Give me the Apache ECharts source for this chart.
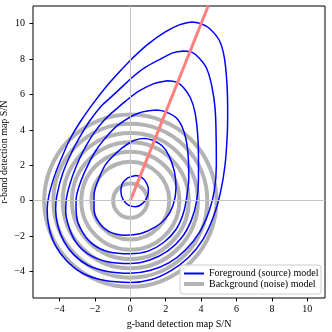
<!DOCTYPE html>
<html>
<head>
<meta charset="utf-8">
<script src="https://cdn.jsdelivr.net/npm/echarts@6/dist/echarts.min.js"></script>
<style>
  html, body { margin: 0; padding: 0; background: #fff; }
</style>
</head>
<body>
<div id="chart" style="width: 332px; height: 332px"></div>
<script>
// tick labels
var xTicks = [-4, -2, 0, 2, 4, 6, 8, 10];
var yTicks = [-4, -2, 0, 2, 4, 6, 8, 10];

// background (noise) model: circle radii around the origin
var noiseRadii = [0.97, 2.2, 2.77, 3.3, 3.82, 4.35, 4.87];

// colour line of the sources
var colorLine = [[0, 0], [4.4, 11]];

// foreground (source) model contours
var fg0 = [
  [0.3, 1.42], [-0.2, 1.25], [-0.48, 0.9], [-0.53, 0.5], [-0.4, 0.05], [-0.05, -0.28],
  [0.3, -0.34], [0.7, -0.15], [0.97, 0.25], [1.02, 0.65], [0.85, 1.1], [0.6, 1.35], [0.3, 1.42]
];
var fg1 = [
  [0.83, 3.52], [0.2, 3.4], [-0.49, 2.96], [-1.0, 2.5], [-1.43, 2.0], [-1.8, 1.2], [-2.05, 0.3],
  [-2.05, -0.5], [-1.8, -1.2], [-1.2, -1.75], [-0.3, -1.95], [0.6, -1.85], [1.4, -1.5], [2.0, -1.0],
  [2.4, -0.3], [2.58, 0.7], [2.5, 1.6], [2.2, 2.5], [1.8, 3.1], [1.3, 3.4], [0.83, 3.52]
];
var fg2 = [
  [1.49, 5.12], [0.45, 4.94], [-0.68, 4.28], [-1.43, 3.52], [-2.0, 2.75], [-2.5, 1.8], [-2.9, 0.8],
  [-3.07, 0.0], [-3.05, -0.8], [-2.8, -1.6], [-2.2, -2.4], [-1.2, -2.9], [0, -3.0], [1.0, -2.85],
  [1.9, -2.35], [2.6, -1.6], [3.0, -0.7], [3.2, 0.3], [3.3, 1.3], [3.25, 2.77], [3.03, 3.9],
  [2.62, 4.66], [1.96, 5.03], [1.49, 5.12]
];
var fg3 = [
  [2.1, 6.78], [1.3, 6.6], [0.5, 6.2], [-0.3, 5.6], [-1.0, 5.0], [-1.43, 4.6], [-2.0, 3.9],
  [-2.5, 3.1], [-2.86, 2.4], [-3.3, 1.3], [-3.6, 0.2], [-3.65, -0.6], [-3.5, -1.4], [-3.1, -2.3],
  [-2.4, -3.0], [-1.3, -3.45], [0, -3.55], [1.1, -3.35], [2.1, -2.85], [2.9, -2.1], [3.45, -1.1],
  [3.75, 0.0], [3.85, 1.2], [3.85, 2.5], [3.8, 3.8], [3.65, 5.0], [3.4, 5.8], [3.0, 6.4],
  [2.6, 6.7], [2.1, 6.78]
];
var fg4 = [
  [3.0, 8.46], [2.4, 8.35], [1.7, 8.0], [0.8, 7.5], [0.15, 7.0], [-0.5, 6.4], [-1.2, 5.75],
  [-1.64, 5.35], [-2.3, 4.5], [-2.85, 3.6], [-3.33, 2.7], [-3.8, 1.6], [-4.15, 0.3], [-4.22, -0.5],
  [-4.1, -1.4], [-3.75, -2.3], [-3.2, -3.05], [-2.4, -3.65], [-1.3, -4.0], [0, -4.1], [1.1, -3.95],
  [2.2, -3.5], [3.1, -2.8], [3.9, -1.8], [4.45, -0.6], [4.75, 0.6], [4.86, 2.0], [4.85, 3.5],
  [4.79, 5.2], [4.6, 6.5], [4.3, 7.5], [3.9, 8.05], [3.5, 8.38], [3.0, 8.46]
];
var fg5 = [
  [3.5, 10.1], [2.8, 9.95], [2.0, 9.55], [1.0, 8.85], [0.15, 8.08], [-0.6, 7.3], [-1.4, 6.4],
  [-2.1, 5.5], [-2.8, 4.5], [-3.4, 3.5], [-3.85, 2.5], [-4.25, 1.5], [-4.6, 0.3], [-4.7, -0.5],
  [-4.6, -1.5], [-4.25, -2.5], [-3.6, -3.4], [-2.7, -4.1], [-1.5, -4.5], [0, -4.62], [1.2, -4.45],
  [2.3, -3.95], [3.3, -3.2], [4.1, -2.2], [4.7, -0.9], [5.1, 0.5], [5.35, 2.0], [5.48, 3.8],
  [5.5, 5.0], [5.46, 6.6], [5.31, 8.1], [5.03, 9.05], [4.46, 9.74], [4.0, 10.0], [3.5, 10.1]
];
var fgContours = [fg0, fg1, fg2, fg3, fg4, fg5];

var FG = "Foreground (source) model";
var BG = "Background (noise) model";

function minus(v) {
  return v < 0 ? "\u2212" + -v : "" + v;
}

var chart = echarts.init(document.getElementById("chart"));

var series = [];
series.push({
  name: BG,
  type: "custom",
  itemStyle: { color: "#b3b3b3" },
  z: 2,
  data: noiseRadii.map(function (r) { return [0, 0, r]; }),
  encode: { x: 0, y: 1 },
  renderItem: function (params, api) {
    var c = api.coord([api.value(0), api.value(1)]);
    var r = api.size([api.value(2), 0])[0];
    return {
      type: "circle",
      shape: { cx: c[0], cy: c[1], r: r },
      style: { fill: "none", stroke: "#b3b3b3", lineWidth: 4 }
    };
  }
});
// zero lines
series.push({
  type: "line",
  data: [],
  silent: true,
  z: 1,
  markLine: {
    silent: true,
    symbol: "none",
    label: { show: false },
    lineStyle: { color: "#c4c4c4", width: 1, type: "solid" },
    data: [{ xAxis: 0 }, { yAxis: 0 }]
  }
});
fgContours.forEach(function (c) {
  series.push({
    name: FG,
    type: "line",
    data: c,
    smooth: 0.35,
    symbol: "none",
    z: 3,
    color: "#0000ff",
    lineStyle: { color: "#0000ff", width: 1.5 }
  });
});
series.push({
  type: "line",
  data: colorLine,
  symbol: "none",
  z: 4,
  lineStyle: { color: "#ff7f7f", width: 3 }
});

chart.setOption({
  animation: false,
  textStyle: { fontFamily: "Liberation Serif" },
  grid: {
    left: 33, right: 7, top: 6, bottom: 34,
    outerBoundsMode: "none",
    containLabel: false,
    show: true, borderColor: "#000", borderWidth: 1
  },
  xAxis: {
    type: "value",
    min: -5.5, max: 11,
    name: "g-band detection map S/N",
    nameLocation: "middle",
    nameGap: 21,
    nameMoveOverlap: false,
    nameTextStyle: { color: "#000", fontSize: 10 },
    axisLine: { show: false, onZero: false },
    splitLine: { show: false },
    axisTick: { show: true, length: 3.5, lineStyle: { color: "#000" }, customValues: xTicks },
    axisLabel: { color: "#000", fontSize: 10, margin: 6, customValues: xTicks, formatter: minus }
  },
  yAxis: {
    type: "value",
    min: -5.5, max: 11,
    name: "r-band detection map S/N",
    nameLocation: "middle",
    nameGap: 24,
    nameMoveOverlap: false,
    nameTextStyle: { color: "#000", fontSize: 10 },
    axisLine: { show: false, onZero: false },
    splitLine: { show: false },
    axisTick: { show: true, length: 3.5, lineStyle: { color: "#000" }, customValues: yTicks },
    axisLabel: { color: "#000", fontSize: 10, margin: 8, customValues: yTicks, formatter: minus }
  },
  graphic: {
    elements: [{
      type: "rect",
      z: 50,
      shape: { x: 180, y: 265, width: 141, height: 29, r: 3 },
      style: { fill: "rgba(255,255,255,0.85)", stroke: "#cccccc", lineWidth: 1 }
    }]
  },
  legend: [
    {
      data: [{ name: FG, icon: "rect" }],
      left: 184, top: 268.5, z: 60, padding: 0,
      itemWidth: 20, itemHeight: 2,
      textStyle: { color: "#000", fontSize: 10, fontFamily: "Liberation Serif" }
    },
    {
      data: [{ name: BG, icon: "rect" }],
      left: 184, top: 279, z: 60, padding: 0,
      itemWidth: 20, itemHeight: 4,
      textStyle: { color: "#000", fontSize: 10, fontFamily: "Liberation Serif" }
    }
  ],
  series: series
});
</script>
</body>
</html>
